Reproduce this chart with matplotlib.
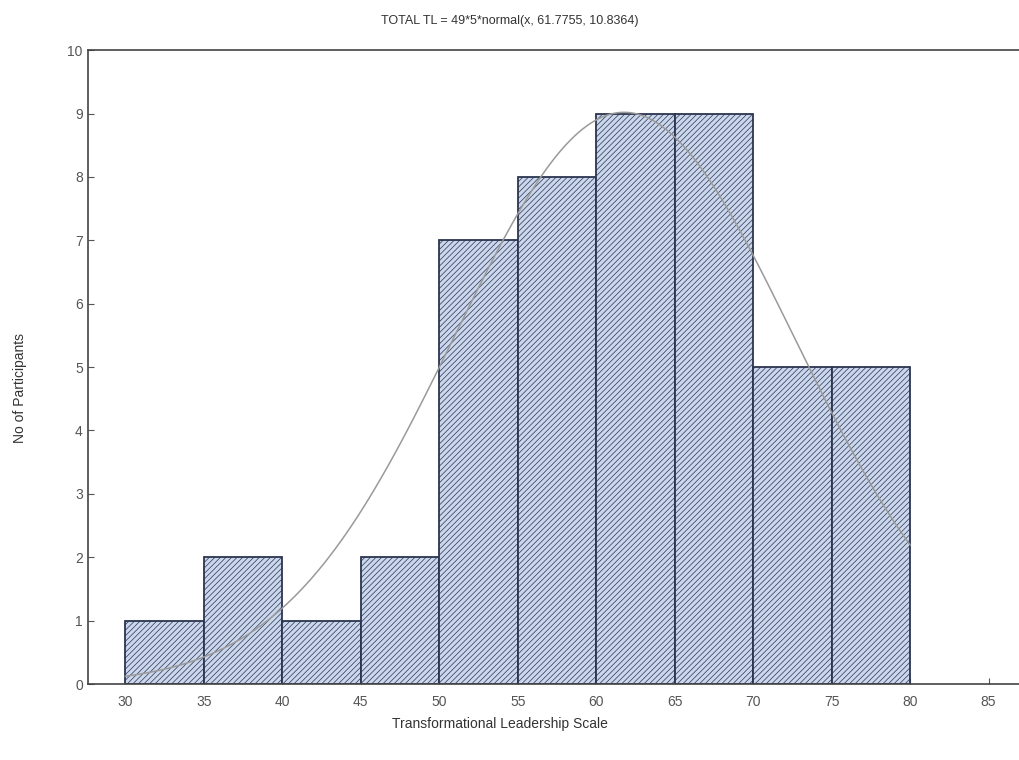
import numpy as np
import matplotlib
matplotlib.use("Agg")
import matplotlib.pyplot as plt

# Histogram of Transformational Leadership scores
bin_edges = [30, 35, 40, 45, 50, 55, 60, 65, 70, 75, 80]
counts = [1, 2, 1, 2, 7, 8, 9, 9, 5, 5]
n_total = 49
bin_width = 5
mu = 61.7755
sigma = 10.8364

plt.rcParams['font.family'] = ['Liberation Sans', 'DejaVu Sans']
plt.rcParams['hatch.linewidth'] = 0.5
plt.rcParams['hatch.color'] = '#7384a0'

fig = plt.figure(figsize=(10.2, 7.6), dpi=100)
ax = fig.add_axes([0.086, 0.1, 0.914, 0.834])

lefts = bin_edges[:-1]
ax.bar(lefts, counts, width=bin_width, align='edge', color='#cad7ec',
       edgecolor='#2c3550', linewidth=1.3, hatch='//////', zorder=2)

# fitted normal curve: N * width * normal(x, mu, sigma)
xs = np.linspace(bin_edges[0], bin_edges[-1], 200)
ys = n_total * bin_width * np.exp(-0.5 * ((xs - mu) / sigma) ** 2) / (sigma * np.sqrt(2 * np.pi))
ax.plot(xs, ys, color='#9a9a9a', linewidth=1.1, zorder=3)

ax.set_xlim(27.6, 87)
ax.set_ylim(0, 10)
ax.set_xticks(range(30, 90, 5))
ax.set_yticks(range(0, 11))
ax.tick_params(axis='both', colors='#555555', labelsize=10, direction='in', length=4)
ax.tick_params(axis='x', pad=8)
for s in ['left', 'bottom', 'top']:
    ax.spines[s].set_color('#444444')
    ax.spines[s].set_linewidth(1.2)
ax.spines['right'].set_visible(False)

fig.text(0.5, 0.972, "TOTAL TL = 49*5*normal(x, 61.7755, 10.8364)", ha='center', va='center',
         fontsize=9, color='#333333')
fig.text(0.49, 0.048, "Transformational Leadership Scale", ha='center', va='center',
         fontsize=10, color='#333333')
fig.text(0.02, 0.49, "No of Participants", ha='center', va='center', rotation=90,
         fontsize=10, color='#333333')

fig.savefig("out.png", dpi=100, facecolor='white')
